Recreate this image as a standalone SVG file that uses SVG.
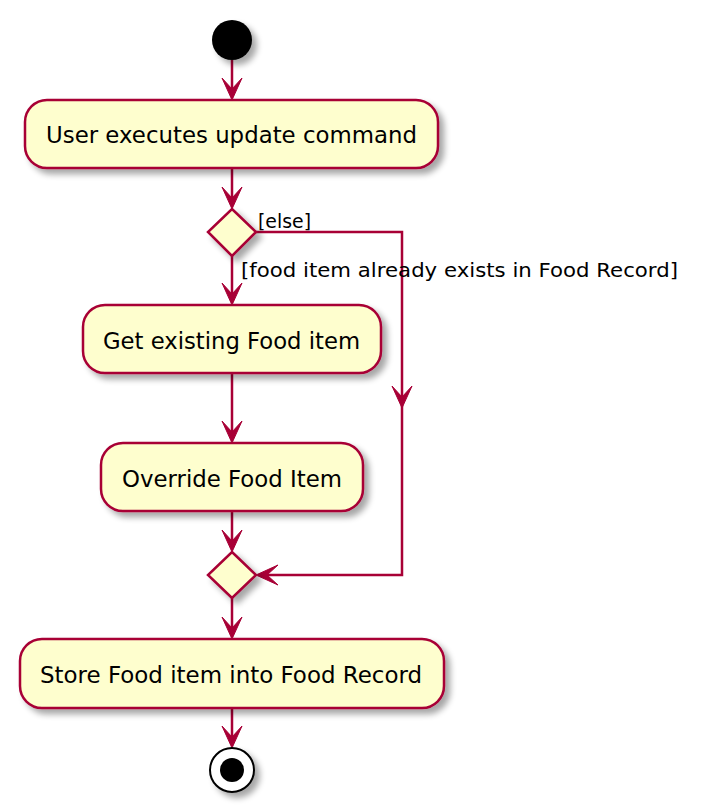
<svg xmlns="http://www.w3.org/2000/svg" width="702" height="812" viewBox="0 0 702 812">
<style>
.node{fill:#FEFECE;stroke:#A80036;stroke-width:2.5}
.txt{font-family:"DejaVu Sans","Liberation Sans",sans-serif;font-size:23px;fill:#000}
.lbl{font-family:"DejaVu Sans","Liberation Sans",sans-serif;font-size:20px;fill:#000}
.edge{fill:none;stroke:#A80036;stroke-width:2.5}
.head{fill:#A80036;stroke:#A80036;stroke-width:1}
</style>
<defs>
<filter id="sh" x="-20%" y="-20%" width="150%" height="160%">
<feGaussianBlur in="SourceAlpha" stdDeviation="3"/>
<feOffset dx="5" dy="5" result="b"/>
<feComponentTransfer><feFuncA type="linear" slope="0.35"/></feComponentTransfer>
<feMerge><feMergeNode/><feMergeNode in="SourceGraphic"/></feMerge>
</filter>
</defs>
<g id="connectors">
<line class="edge" x1="232" y1="60" x2="232" y2="95"/>
<polygon class="head" points="232,100 222,78 232,89 242,78"/>
<line class="edge" x1="232" y1="168" x2="232" y2="204"/>
<polygon class="head" points="232,209 222,187 232,198 242,187"/>
<line class="edge" x1="232" y1="256" x2="232" y2="300"/>
<polygon class="head" points="232,305 222,283 232,294 242,283"/>
<polyline class="edge" points="256,232 402,232 402,575 261,575"/>
<polygon class="head" points="402,408 392,386 402,397 412,386"/>
<polygon class="head" points="256,575 278,565 267,575 278,585"/>
<line class="edge" x1="232" y1="373" x2="232" y2="438"/>
<polygon class="head" points="232,443 222,421 232,432 242,421"/>
<line class="edge" x1="232" y1="511" x2="232" y2="547"/>
<polygon class="head" points="232,552 222,530 232,541 242,530"/>
<line class="edge" x1="232" y1="598" x2="232" y2="634"/>
<polygon class="head" points="232,639 222,617 232,628 242,617"/>
<line class="edge" x1="232" y1="708" x2="232" y2="743"/>
<polygon class="head" points="232,748 222,726 232,737 242,726"/>
<text class="lbl" x="258" y="228" textLength="53" lengthAdjust="spacingAndGlyphs">[else]</text>
<text class="lbl" x="241" y="277" textLength="437" lengthAdjust="spacingAndGlyphs">[food item already exists in Food Record]</text>
</g>
<g id="start">
<circle cx="232" cy="40" r="20" fill="#000" filter="url(#sh)"/>
</g>
<g id="userExecutes">
<rect class="node" x="25" y="100" width="413" height="68" rx="22" filter="url(#sh)"/>
<text class="txt" x="46" y="143" textLength="371" lengthAdjust="spacingAndGlyphs">User executes update command</text>
</g>
<g id="decision1">
<polygon class="node" points="232,209 256,232 232,256 208,232" filter="url(#sh)"/>
</g>
<g id="getExisting">
<rect class="node" x="83" y="305" width="298" height="68" rx="22" filter="url(#sh)"/>
<text class="txt" x="103" y="349" textLength="257" lengthAdjust="spacingAndGlyphs">Get existing Food item</text>
</g>
<g id="override">
<rect class="node" x="101" y="443" width="262" height="68" rx="22" filter="url(#sh)"/>
<text class="txt" x="122" y="487" textLength="220" lengthAdjust="spacingAndGlyphs">Override Food Item</text>
</g>
<g id="merge">
<polygon class="node" points="232,552 256,575 232,598 208,575" filter="url(#sh)"/>
</g>
<g id="store">
<rect class="node" x="20" y="639" width="424" height="69" rx="22" filter="url(#sh)"/>
<text class="txt" x="40" y="683" textLength="382" lengthAdjust="spacingAndGlyphs">Store Food item into Food Record</text>
</g>
<g id="end">
<circle cx="232" cy="770" r="22" fill="#fff" stroke="#000" stroke-width="2" filter="url(#sh)"/>
<circle cx="232" cy="770" r="12" fill="#000"/>
</g>
</svg>
